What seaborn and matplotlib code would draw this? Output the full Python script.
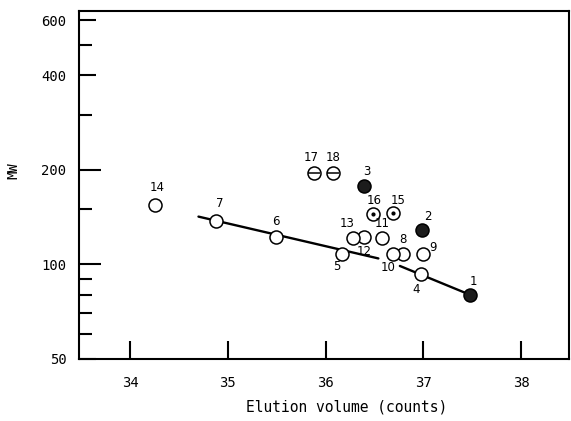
import numpy as np
import pandas as pd
import matplotlib
matplotlib.use("Agg")
import matplotlib.pyplot as plt
import matplotlib.ticker as mticker
import seaborn as sns

# compound numbers, elution volume (counts), molecular weight
labels = ["1", "2", "3", "4", "5", "6", "7", "8", "9", "10",
          "11", "12", "13", "14", "15", "16", "17", "18"]
elution = [37.48, 36.99, 36.39, 36.98, 36.17, 35.49, 34.88, 36.79, 37.0, 36.69,
           36.58, 36.39, 36.28, 34.26, 36.69, 36.49, 35.88, 36.08]
mw = [80, 129, 178, 93, 108, 122, 137, 108, 108, 108,
      121, 122, 121, 155, 146, 145, 195, 195]
kind = ["filled", "filled", "filled", "open", "open", "open", "open", "open", "open", "open",
        "open", "open", "open", "open", "dot", "dot", "bar", "bar"]

# calibration line (broken under label 10)
line_x = [34.7, 36.54, 36.76, 37.48]
line_y = [142, 104.5, 98.9, 80]

# label offsets in pixels (dx, dy)
offsets = {"1": (3, 13), "2": (6, 13), "3": (3, 14), "4": (-5, -15), "5": (-5, -13),
           "6": (0, 16), "7": (4, 18), "8": (0, 14), "9": (10, 6), "10": (-5, -14),
           "11": (0, 15), "12": (0, -14), "13": (-6, 15), "14": (2, 17), "15": (5, 12),
           "16": (1, 13), "17": (-3, 16), "18": (0, 16)}

df = pd.DataFrame({"label": labels, "x": elution, "y": mw, "kind": kind})

sns.set_style("ticks", {"axes.edgecolor": "black", "xtick.color": "black",
                        "ytick.color": "black", "text.color": "black",
                        "axes.labelcolor": "black"})
plt.rcParams["font.family"] = ["DejaVu Sans"]

fig = plt.figure(figsize=(5.71, 4.21), dpi=100)
ax = fig.add_axes([79 / 571, 1 - 359 / 421, 490 / 571, 348 / 421])

ax.set_yscale("log")

# line segments
ax.plot(line_x[:2], line_y[:2], color="black", lw=1.7, zorder=1)
ax.plot(line_x[2:], line_y[2:], color="black", lw=1.7, zorder=1)

ms = 88
sub = df[df.kind != "filled"]
sns.scatterplot(data=sub, x="x", y="y", ax=ax, s=ms, color="white",
                edgecolor="black", linewidth=1.1, zorder=3, legend=False)
sub = df[df.kind == "filled"]
sns.scatterplot(data=sub, x="x", y="y", ax=ax, s=ms, color="#1c1c1c",
                edgecolor="black", linewidth=1.1, zorder=3, legend=False)
sub = df[df.kind == "bar"]
ax.scatter(sub.x, sub.y, marker="_", s=ms * 0.8, color="black", linewidths=1.1, zorder=4)
sub = df[df.kind == "dot"]
ax.scatter(sub.x, sub.y, marker="o", s=4, color="black", zorder=4)

for _, r in df.iterrows():
    dx, dy = offsets[r.label]
    ax.annotate(r.label, (r.x, r.y), xytext=(dx, dy), textcoords="offset pixels",
                ha="center", va="center", fontsize=8.5, family="DejaVu Sans Condensed")

ax.set_xlim(33.478, 38.49)
ax.set_ylim(50, 641)
ax.set_xticks([34, 35, 36, 37, 38])
ax.yaxis.set_major_locator(mticker.FixedLocator([50, 100, 200, 400, 600]))
ax.yaxis.set_minor_locator(mticker.FixedLocator([60, 70, 80, 90, 150, 300, 500]))
ax.yaxis.set_major_formatter(mticker.FixedFormatter(["50", "100", "200", "400", "600"]))
ax.yaxis.set_minor_formatter(mticker.NullFormatter())

ax.tick_params(axis="x", which="major", direction="in", length=13, width=1.5,
               pad=12, labelsize=10)
ax.tick_params(axis="y", which="major", direction="in", length=12, width=1.5,
               pad=9, labelsize=10)
ax.tick_params(axis="y", which="minor", direction="in", length=9.5, width=1.5)
for lab in ax.get_xticklabels() + ax.get_yticklabels():
    lab.set_family("DejaVu Sans Mono")
for t, v in zip(ax.yaxis.get_major_ticks(), [50, 100, 200, 400, 600]):
    if v in (100, 200):
        t.tick1line.set_markersize(16)

for sp in ax.spines.values():
    sp.set_linewidth(1.5)
    sp.set_visible(True)

ax.set_xlabel("Elution volume (counts)", family="DejaVu Sans Mono", fontsize=10.5)
ax.set_ylabel("MW", family="DejaVu Sans Mono", fontsize=10)
ax.xaxis.set_label_coords(0.547, -0.115)
ax.yaxis.set_label_coords(-0.12, 0.54)

fig.savefig("out.png", dpi=100)
